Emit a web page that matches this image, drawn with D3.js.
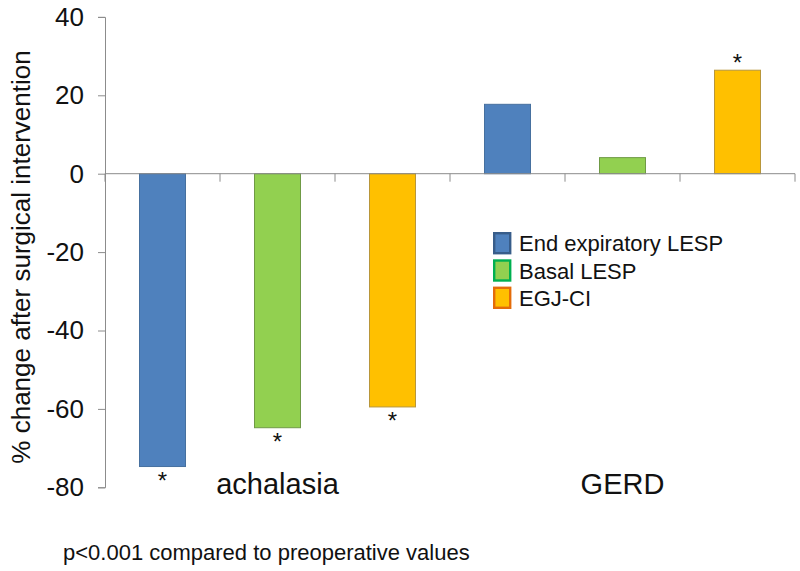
<!DOCTYPE html>
<html>
<head>
<meta charset="utf-8">
<script src="https://cdn.jsdelivr.net/npm/d3@7"></script>
<style>
  html, body { margin: 0; padding: 0; background: #fff; }
  svg { display: block; }
  text { font-family: "Liberation Sans", Arial, sans-serif; fill: #111; }
</style>
</head>
<body>
<svg id="chart" width="800" height="571"></svg>
<script>
// ---- data ----
const groups = ["achalasia", "GERD"];
const seriesNames = ["End expiratory LESP", "Basal LESP", "EGJ-CI"];
const endExpiratory = [-74.7, 17.7];
const basalLESP = [-64.8, 4.1];
const egjCI = [-59.5, 26.4];
const sigEndExpiratory = [true, false];
const sigBasal = [true, false];
const sigEgj = [true, true];
const yTicks = [-80, -60, -40, -20, 0, 20, 40];
const yTickLabels = ["-80", "-60", "-40", "-20", "0", "20", "40"];
const yTitle = "% change after surgical intervention";
const footnote = "p<0.001 compared to preoperative values";

// ---- styles ----
const fills = ["#4f81bd", "#92d050", "#ffc000"];
const strokes = ["#46709f", "#6f9a45", "#b8963a"];
const legendStrokes = ["#385d8a", "#00b050", "#e46c0a"];
const axisColor = "#8c8c8c";

const svg = d3.select("#chart");

const seriesValues = [endExpiratory, basalLESP, egjCI];
const seriesSig = [sigEndExpiratory, sigBasal, sigEgj];

// flatten into bars (group-major)
const bars = [];
groups.forEach((g, gi) => {
  seriesNames.forEach((s, si) => {
    bars.push({ key: g + "|" + s, group: g, si, value: seriesValues[si][gi], sig: seriesSig[si][gi] });
  });
});

const x = d3.scaleBand().domain(bars.map(d => d.key)).range([105, 795]).padding(0);
const y = d3.scaleLinear().domain([-80, 40]).range([487.3, 16.9]);
const barW = x.bandwidth() * 0.4;

// y axis
const yAxis = d3.axisLeft(y).tickValues(yTicks).tickSize(7).tickPadding(14)
  .tickFormat(d => yTickLabels[yTicks.indexOf(d)]);
const gy = svg.append("g").attr("transform", "translate(105,0)").call(yAxis);
gy.select(".domain").attr("stroke", axisColor);
gy.selectAll(".tick line").attr("stroke", axisColor);
gy.selectAll(".tick text").style("font-size", "26px").attr("fill", "#111")
  .style("font-family", '"Liberation Sans", Arial, sans-serif');

// bars
svg.append("g").selectAll("rect").data(bars).join("rect")
  .attr("x", d => x(d.key) + (x.bandwidth() - barW) / 2)
  .attr("y", d => y(Math.max(0, d.value)))
  .attr("width", barW)
  .attr("height", d => Math.abs(y(d.value) - y(0)))
  .attr("fill", d => fills[d.si])
  .attr("stroke", d => strokes[d.si])
  .attr("stroke-width", 1);

// x axis line at zero with ticks at band boundaries
const boundaries = x.domain().map(k => x(k)).concat([x.range()[1]]);
svg.append("line")
  .attr("x1", x.range()[0]).attr("x2", x.range()[1])
  .attr("y1", y(0)).attr("y2", y(0))
  .attr("stroke", axisColor).attr("stroke-width", 1);
svg.append("g").selectAll("line").data(boundaries).join("line")
  .attr("x1", d => d).attr("x2", d => d)
  .attr("y1", y(0)).attr("y2", y(0) + 8)
  .attr("stroke", axisColor).attr("stroke-width", 1);

// significance stars
svg.append("g").selectAll("text").data(bars.filter(d => d.sig)).join("text")
  .attr("x", d => x(d.key) + x.bandwidth() / 2)
  .attr("y", d => d.value < 0 ? y(d.value) + 22 : y(d.value) + 1)
  .attr("text-anchor", "middle")
  .style("font-size", "24px")
  .text("*");

// group labels
svg.append("g").selectAll("text").data(groups).join("text")
  .attr("x", g => {
    const ks = bars.filter(b => b.group === g).map(b => b.key);
    return (x(ks[0]) + x(ks[ks.length - 1]) + x.bandwidth()) / 2;
  })
  .attr("y", 494)
  .attr("text-anchor", "middle")
  .style("font-size", "29px")
  .text(g => g);

// y title
svg.append("text")
  .attr("transform", "translate(30,257) rotate(-90)")
  .attr("text-anchor", "middle")
  .style("font-size", "26px")
  .text(yTitle);

// legend
const legend = svg.append("g").attr("transform", "translate(493,232)");
const rows = legend.selectAll("g").data(seriesNames).join("g")
  .attr("transform", (d, i) => `translate(0,${i * 27.3})`);
rows.append("rect")
  .attr("x", 1.2).attr("y", 1.2)
  .attr("width", 16).attr("height", 20)
  .attr("fill", (d, i) => fills[i])
  .attr("stroke", (d, i) => legendStrokes[i])
  .attr("stroke-width", 2.4);
rows.append("text")
  .attr("x", 26).attr("y", 11.5)
  .attr("dy", "0.36em")
  .style("font-size", "22px")
  .text(d => d);

// footnote
svg.append("text")
  .attr("x", 63).attr("y", 560)
  .style("font-size", "22px")
  .text(footnote);
</script>
</body>
</html>
